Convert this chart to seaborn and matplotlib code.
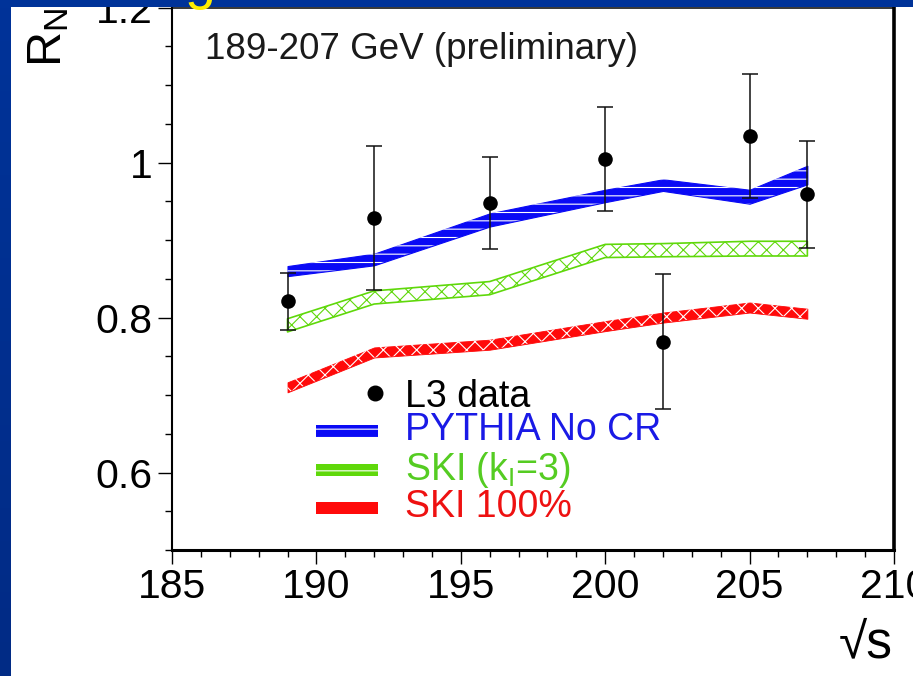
import numpy as np
import pandas as pd
import matplotlib
matplotlib.use("Agg")
import matplotlib.pyplot as plt
import seaborn as sns
from matplotlib.patches import Rectangle
from matplotlib.ticker import MultipleLocator, FixedLocator, FixedFormatter

# L3 measurement of R_N versus centre-of-mass energy
energy = [189, 192, 196, 200, 202, 205, 207]
rn_data = [0.821, 0.929, 0.948, 1.005, 0.769, 1.034, 0.959]
rn_err = [0.037, 0.093, 0.059, 0.067, 0.087, 0.080, 0.069]

# Model predictions (band centre and half-width)
pythia_mid = [0.860, 0.875, 0.926, 0.957, 0.971, 0.956, 0.984]
pythia_half = [0.0065, 0.0075, 0.0085, 0.008, 0.0075, 0.0090, 0.0120]
ski3_mid = [0.790, 0.826, 0.838, 0.886, 0.887, 0.889, 0.889]
ski3_half = [0.0085, 0.0085, 0.0085, 0.0085, 0.0085, 0.0095, 0.0095]
ski100_mid = [0.710, 0.755, 0.765, 0.789, 0.800, 0.813, 0.805]
ski100_half = [0.0065, 0.0065, 0.0065, 0.0065, 0.0065, 0.0065, 0.0065]

x_ticks = [185, 190, 195, 200, 205, 210]
x_tick_labels = ["185", "190", "195", "200", "205", "210"]
y_ticks = [0.6, 0.8, 1.0, 1.2]
y_tick_labels = ["0.6", "0.8", "1", "1.2"]

legend_labels = ["L3 data", "PYTHIA No CR", "SKI (k$_{\\mathrm{I}}$=3)", "SKI 100%"]

BLUE = "#0a0af5"
GREEN = "#5fd80a"
RED = "#ff0a0a"
SLIDE_BLUE = "#003399"

sns.set_style("ticks")
plt.rcParams["font.family"] = ["Liberation Sans", "DejaVu Sans"]
plt.rcParams["mathtext.fontset"] = "custom"
plt.rcParams["mathtext.rm"] = "Liberation Sans"
plt.rcParams["mathtext.it"] = "Liberation Sans:italic"
plt.rcParams["mathtext.bf"] = "Liberation Sans:bold"
plt.rcParams["hatch.linewidth"] = 0.8

df = pd.DataFrame({"energy": energy, "rn": rn_data, "err": rn_err})
bands = pd.DataFrame({
    "energy": energy,
    "pythia_lo": np.array(pythia_mid) - np.array(pythia_half),
    "pythia_hi": np.array(pythia_mid) + np.array(pythia_half),
    "ski3_lo": np.array(ski3_mid) - np.array(ski3_half),
    "ski3_hi": np.array(ski3_mid) + np.array(ski3_half),
    "ski100_lo": np.array(ski100_mid) - np.array(ski100_half),
    "ski100_hi": np.array(ski100_mid) + np.array(ski100_half),
})

W, H = 913, 676
fig = plt.figure(figsize=(W / 100, H / 100), dpi=100, facecolor="white")
ax = fig.add_axes([172 / W, 126 / H, 722 / W, 542.3 / H])
ax.set_facecolor("white")

# PYTHIA band: solid blue with white dashes
ax.fill_between(bands["energy"], bands["pythia_lo"], bands["pythia_hi"],
                facecolor=BLUE, edgecolor=BLUE, linewidth=0.8, zorder=2)
ax.fill_between(bands["energy"], bands["pythia_lo"], bands["pythia_hi"],
                facecolor="none", edgecolor="white", hatch="--", linewidth=0, zorder=2.1)

# SKI k_I=3 band: green outline with cross-hatching
ax.fill_between(bands["energy"], bands["ski3_lo"], bands["ski3_hi"],
                facecolor="white", edgecolor=GREEN, linewidth=1.2, hatch="xx", zorder=2)

# SKI 100% band: solid red with sparse white crosses
ax.fill_between(bands["energy"], bands["ski100_lo"], bands["ski100_hi"],
                facecolor=RED, edgecolor=RED, linewidth=0.6, zorder=2)
ax.fill_between(bands["energy"], bands["ski100_lo"], bands["ski100_hi"],
                facecolor="none", edgecolor="white", hatch="xx", linewidth=0, zorder=2.1)

# data points with error bars
ax.errorbar(df["energy"], df["rn"], yerr=df["err"], fmt="none", ecolor="#111111",
            elinewidth=1.1, capsize=5.5, capthick=1.1, zorder=4)
sns.scatterplot(data=df, x="energy", y="rn", color="black", s=110,
                edgecolor="black", linewidth=0, zorder=5, ax=ax, legend=False)

ax.set_xlim(185, 210)
ax.set_ylim(0.5, 1.2)
ax.xaxis.set_major_locator(FixedLocator(x_ticks))
ax.xaxis.set_major_formatter(FixedFormatter(x_tick_labels))
ax.xaxis.set_minor_locator(MultipleLocator(1))
ax.yaxis.set_major_locator(FixedLocator(y_ticks))
ax.yaxis.set_major_formatter(FixedFormatter(y_tick_labels))
ax.yaxis.set_minor_locator(MultipleLocator(0.05))
ax.set_xlabel("")
ax.set_ylabel("")

ax.tick_params(axis="both", which="both", direction="out", colors="black",
               top=False, right=False)
ax.tick_params(axis="both", which="major", length=10, width=1.0, labelsize=29.5)
ax.tick_params(axis="both", which="minor", length=5, width=1.0)
ax.tick_params(axis="x", which="major", pad=3)
ax.tick_params(axis="y", which="major", pad=4)

for side, lw in {"left": 1.5, "bottom": 2.2, "right": 2.6, "top": 1.1}.items():
    ax.spines[side].set_visible(True)
    ax.spines[side].set_linewidth(lw)
    ax.spines[side].set_color("black")

ax.text(0.0457, 0.906, "189-207 GeV (preliminary)", transform=ax.transAxes,
        fontsize=26.5, color="#1a1a1a", ha="left", va="baseline")

# legend drawn inside the frame
ax.scatter([0.281], [0.289], s=110, color="black", transform=ax.transAxes,
           zorder=6, clip_on=False)
swatches = [
    (0.2081, BLUE, "white", "--"),
    (0.1363, GREEN, "white", "--"),
    (0.0663, RED, RED, None),
]
for y0, fc, hc, hatch in swatches:
    ax.add_patch(Rectangle((0.1994, y0), 0.0859, 0.0221, transform=ax.transAxes,
                           facecolor=fc, edgecolor="none", zorder=6))
    if hatch:
        ax.add_patch(Rectangle((0.1994, y0), 0.0859, 0.0221, transform=ax.transAxes,
                               facecolor="none", edgecolor=hc, hatch=hatch,
                               linewidth=0, zorder=6.1))
legend_colors = ["black", "#1a1ae6", "#55cc22", "#ee1111"]
legend_base = [0.2639, 0.2026, 0.1289, 0.0614]
for lab, col, yb in zip(legend_labels, legend_colors, legend_base):
    ax.text(0.3227, yb, lab, transform=ax.transAxes, fontsize=27, color=col,
            ha="left", va="baseline", zorder=6)

# axis titles
fig.text(26 / W, 1 - 8 / H, "R$_{\\mathrm{N}}$", rotation=90, fontsize=35,
         ha="left", va="top", color="black")
fig.text(893 / W, 1 - 657 / H, "\u221as", fontsize=37, ha="right",
         va="baseline", color="black")

# slide frame strips
fig.add_artist(Rectangle((0, 1 - 7 / H), 1, 7 / H, transform=fig.transFigure,
                         facecolor=SLIDE_BLUE, edgecolor="none", zorder=5))
strip = fig.add_axes([0, 0, 10 / W, 1 - 7 / H], zorder=5)
grad = np.linspace(0, 1, 256).reshape(-1, 1)
strip.imshow(grad, aspect="auto", extent=[0, 1, 0, 1], origin="upper",
             cmap=matplotlib.colors.LinearSegmentedColormap.from_list(
                 "slide", [SLIDE_BLUE, "#022b85"]))
strip.set_axis_off()
fig.text(185 / W, 1 + 1.5 / H, "g", fontsize=40, color="#ffee00",
         ha="left", va="baseline", zorder=7)

fig.savefig("out.png", dpi=100, facecolor=fig.get_facecolor())
